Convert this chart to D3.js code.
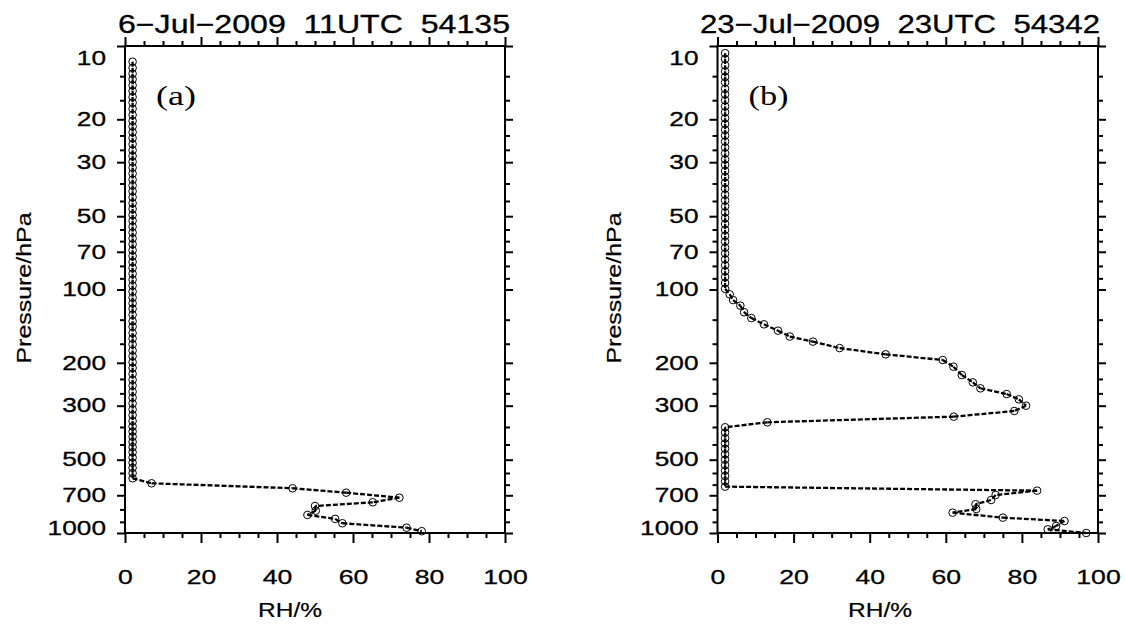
<!DOCTYPE html>
<html>
<head>
<meta charset="utf-8">
<script src="https://cdn.jsdelivr.net/npm/d3@7"></script>
<style>
  body { margin: 0; background: #fff; }
  text { font-family: "Liberation Sans", Arial, sans-serif; fill: #000; }
</style>
</head>
<body>
<div id="the_chart"></div>
<script>
// tick values
var majorP = [10, 20, 30, 50, 70, 100, 200, 300, 500, 700, 1000];
var minorP = [13.3, 16.7, 23.3, 26.7, 36.7, 43.3, 56.7, 63.3, 80, 90,
              133, 167, 233, 267, 367, 433, 567, 633, 800, 900];
var majorRH = [0, 20, 40, 60, 80, 100];
var minorRH = [5, 10, 15, 25, 30, 35, 45, 50, 55, 65, 70, 75, 85, 90, 95];

// panel (a) : 6-Jul-2009 11UTC 54135
var presA = [11.6, 12.3, 13.0, 13.7, 14.5, 15.3, 16.2, 17.1, 18.1, 19.2,
             20.3, 21.4, 22.6, 23.9, 25.3, 26.8, 28.3, 29.9, 31.6, 33.4,
             35.4, 37.4, 39.5, 41.8, 44.2, 46.7, 49.4, 52.2, 55.2, 58.4,
             61.7, 65.2, 69.0, 72.9, 77.1, 81.5, 86.2, 91.1, 96.4, 102,
             108, 114, 120, 127, 135, 142, 151, 159, 168, 178,
             188, 199, 210, 222, 235, 248, 263, 278, 294, 311,
             328, 347, 365, 383, 402, 423, 444, 466, 490, 515,
             540, 568, 596,
             625, 655, 683, 716, 748, 775, 810, 843, 875, 912, 951, 983];
var rhA = [2, 2, 2, 2, 2, 2, 2, 2, 2, 2,
           2, 2, 2, 2, 2, 2, 2, 2, 2, 2,
           2, 2, 2, 2, 2, 2, 2, 2, 2, 2,
           2, 2, 2, 2, 2, 2, 2, 2, 2, 2,
           2, 2, 2, 2, 2, 2, 2, 2, 2, 2,
           2, 2, 2, 2, 2, 2, 2, 2, 2, 2,
           2, 2, 2, 2, 2, 2, 2, 2, 2, 2,
           2, 2, 2,
           7, 44.1, 58.2, 72.2, 65.2, 50, 50.2, 48, 55.3, 57.2, 74.1, 78.1];

// panel (b) : 23-Jul-2009 23UTC 54342
var presB = [10.7, 11.3, 12.0, 12.7, 13.4, 14.1, 15.0, 15.8, 16.7, 17.7,
             18.7, 19.8, 20.9, 22.1, 23.3, 24.7, 26.1, 27.6, 29.2, 30.8,
             32.6, 34.5, 36.5, 38.5, 40.8, 43.1, 45.6, 48.2, 50.9, 53.8,
             56.9, 60.2, 63.6, 67.3, 71.1, 75.2, 79.5, 84.1, 88.9, 94.0,
             99.4,
             104.6, 110.5, 116.5, 124, 131, 139, 147.6, 156, 163.7, 174, 184.6, 194.8, 207.5,
             224.5, 240.6, 254.6, 268.7, 282.6, 300, 315.5, 332.8, 351,
             368, 387, 408, 429, 451, 475, 500, 526, 554, 583, 613, 645,
             670, 698, 732, 762, 797, 825, 865, 893, 936, 966, 1000];
var rhB = [2, 2, 2, 2, 2, 2, 2, 2, 2, 2,
           2, 2, 2, 2, 2, 2, 2, 2, 2, 2,
           2, 2, 2, 2, 2, 2, 2, 2, 2, 2,
           2, 2, 2, 2, 2, 2, 2, 2, 2, 2,
           2,
           3.2, 4.1, 6.0, 7.0, 8.9, 12.2, 15.9, 19.0, 25.1, 32.1, 44.2, 59.2, 62.0,
           64.2, 67.1, 69.1, 76.0, 79.2, 81.1, 78.0, 62.1, 13.1,
           2, 2, 2, 2, 2, 2, 2, 2, 2, 2, 2, 2,
           84.0, 73.1, 71.9, 67.8, 68.0, 61.8, 75.0, 91.2, 89.0, 86.8, 96.9];

var w = 1126, h = 630;
var top_y = 46, bottom_y = 533;

var svg = d3.select("#the_chart")
    .append("svg")
    .attr("width", w)
    .attr("height", h);

// glyphs in the original are wide, so widths are forced with textLength
function stretch(sel, perChar) {
    sel.attr("textLength", function() { return this.textContent.length * perChar; })
       .attr("lengthAdjust", "spacingAndGlyphs")
       .attr("stroke", "#000").attr("stroke-width", 0.3);
}

function drawPanel(p) {
    var xscale = d3.scaleLinear().domain([0, 100]).range([p.left, p.right]);
    var yscale = d3.scaleLog().domain([10, 1000]).range([top_y, bottom_y]);

    var g = svg.append("g");

    // minor ticks, all four sides, pointing outwards
    function minorAxis(axis, values, tr) {
        g.append("g").attr("class", "minor").attr("transform", tr)
            .call(axis.tickValues(values).tickSize(5).tickSizeOuter(0).tickFormat(""));
    }
    minorAxis(d3.axisLeft(yscale), minorP, "translate(" + p.left + ",0)");
    minorAxis(d3.axisRight(yscale), minorP, "translate(" + p.right + ",0)");
    minorAxis(d3.axisTop(xscale), minorRH, "translate(0," + top_y + ")");
    minorAxis(d3.axisBottom(xscale), minorRH, "translate(0," + bottom_y + ")");

    // major ticks
    var yaxis = g.append("g").attr("transform", "translate(" + p.left + ",0)")
        .call(d3.axisLeft(yscale).tickValues(majorP).tickSize(8).tickSizeOuter(0)
              .tickPadding(11).tickFormat(d3.format("d")));
    g.append("g").attr("transform", "translate(" + p.right + ",0)")
        .call(d3.axisRight(yscale).tickValues(majorP).tickSize(8).tickSizeOuter(0).tickFormat(""));
    g.append("g").attr("transform", "translate(0," + top_y + ")")
        .call(d3.axisTop(xscale).tickValues(majorRH).tickSize(9).tickSizeOuter(0).tickFormat(""));
    var xaxis = g.append("g").attr("transform", "translate(0," + bottom_y + ")")
        .call(d3.axisBottom(xscale).tickValues(majorRH).tickSize(10).tickSizeOuter(0)
              .tickPadding(26).tickFormat(d3.format("d")));

    g.selectAll(".domain").remove();
    g.selectAll(".tick line").attr("stroke", "#000").attr("stroke-width", 2);

    yaxis.selectAll("text")
        .attr("font-size", 19.5)
        .attr("y", function(d) { return d == 10 ? 12 : (d == 1000 ? -5 : 0); })
        .call(stretch, 14.6);
    xaxis.selectAll("text")
        .attr("font-size", 20.5)
        .call(stretch, 14.8);

    // frame
    g.append("rect")
        .attr("x", p.left).attr("y", top_y)
        .attr("width", p.right - p.left).attr("height", bottom_y - top_y)
        .attr("fill", "none").attr("stroke", "#000").attr("stroke-width", 2);

    // profile: every segment is its own dashed path, so the dash restarts at each level
    var line = d3.line()
        .x(function(d) { return xscale(d.rh); })
        .y(function(d) { return yscale(d.p); });
    var pts = p.pres.map(function(v, i) { return {p: v, rh: p.rh[i]}; });

    g.selectAll("path.seg")
        .data(d3.pairs(pts))
        .enter().append("path")
        .attr("class", "seg")
        .attr("d", line)
        .attr("fill", "none")
        .attr("stroke", "#000")
        .attr("stroke-width", 2.3)
        .attr("stroke-dasharray", "5,2");

    g.selectAll("circle")
        .data(pts)
        .enter().append("circle")
        .attr("cx", function(d) { return xscale(d.rh); })
        .attr("cy", function(d) { return yscale(d.p); })
        .attr("r", 3.8)
        .attr("fill", "none")
        .attr("stroke", "#000")
        .attr("stroke-width", 1);

    // texts
    g.append("text")
        .attr("x", p.titleX).attr("y", 33)
        .attr("font-size", 25)
        .style("white-space", "pre")
        .attr("textLength", p.titleW).attr("lengthAdjust", "spacingAndGlyphs")
        .attr("stroke", "#000").attr("stroke-width", 0.3)
        .text(p.title);

    g.append("text")
        .attr("x", p.left + 31).attr("y", 105)
        .style("font-family", "'Liberation Serif', 'Times New Roman', serif")
        .style("font-weight", "normal")
        .attr("font-size", 27)
        .attr("textLength", 40).attr("lengthAdjust", "spacingAndGlyphs")
        .text(p.tag);

    g.append("text")
        .attr("transform", "translate(" + p.ylabX + ",288) rotate(-90)")
        .attr("text-anchor", "middle")
        .attr("dy", "0.35em")
        .attr("font-size", 20)
        .attr("textLength", 151).attr("lengthAdjust", "spacingAndGlyphs")
        .attr("stroke", "#000").attr("stroke-width", 0.2)
        .text("Pressure/hPa");

    g.append("text")
        .attr("x", p.xlabX).attr("y", 617)
        .attr("text-anchor", "middle")
        .attr("font-size", 20)
        .attr("textLength", 64).attr("lengthAdjust", "spacingAndGlyphs")
        .attr("stroke", "#000").attr("stroke-width", 0.2)
        .text("RH/%");
}

drawPanel({left: 125, right: 505, pres: presA, rh: rhA, tag: "(a)",
           title: "6\u2212Jul\u22122009  11UTC  54135", titleX: 118, titleW: 392,
           ylabX: 24, xlabX: 290});
drawPanel({left: 717.5, right: 1098, pres: presB, rh: rhB, tag: "(b)",
           title: "23\u2212Jul\u22122009  23UTC  54342", titleX: 700, titleW: 400,
           ylabX: 614, xlabX: 880});
</script>
</body>
</html>
